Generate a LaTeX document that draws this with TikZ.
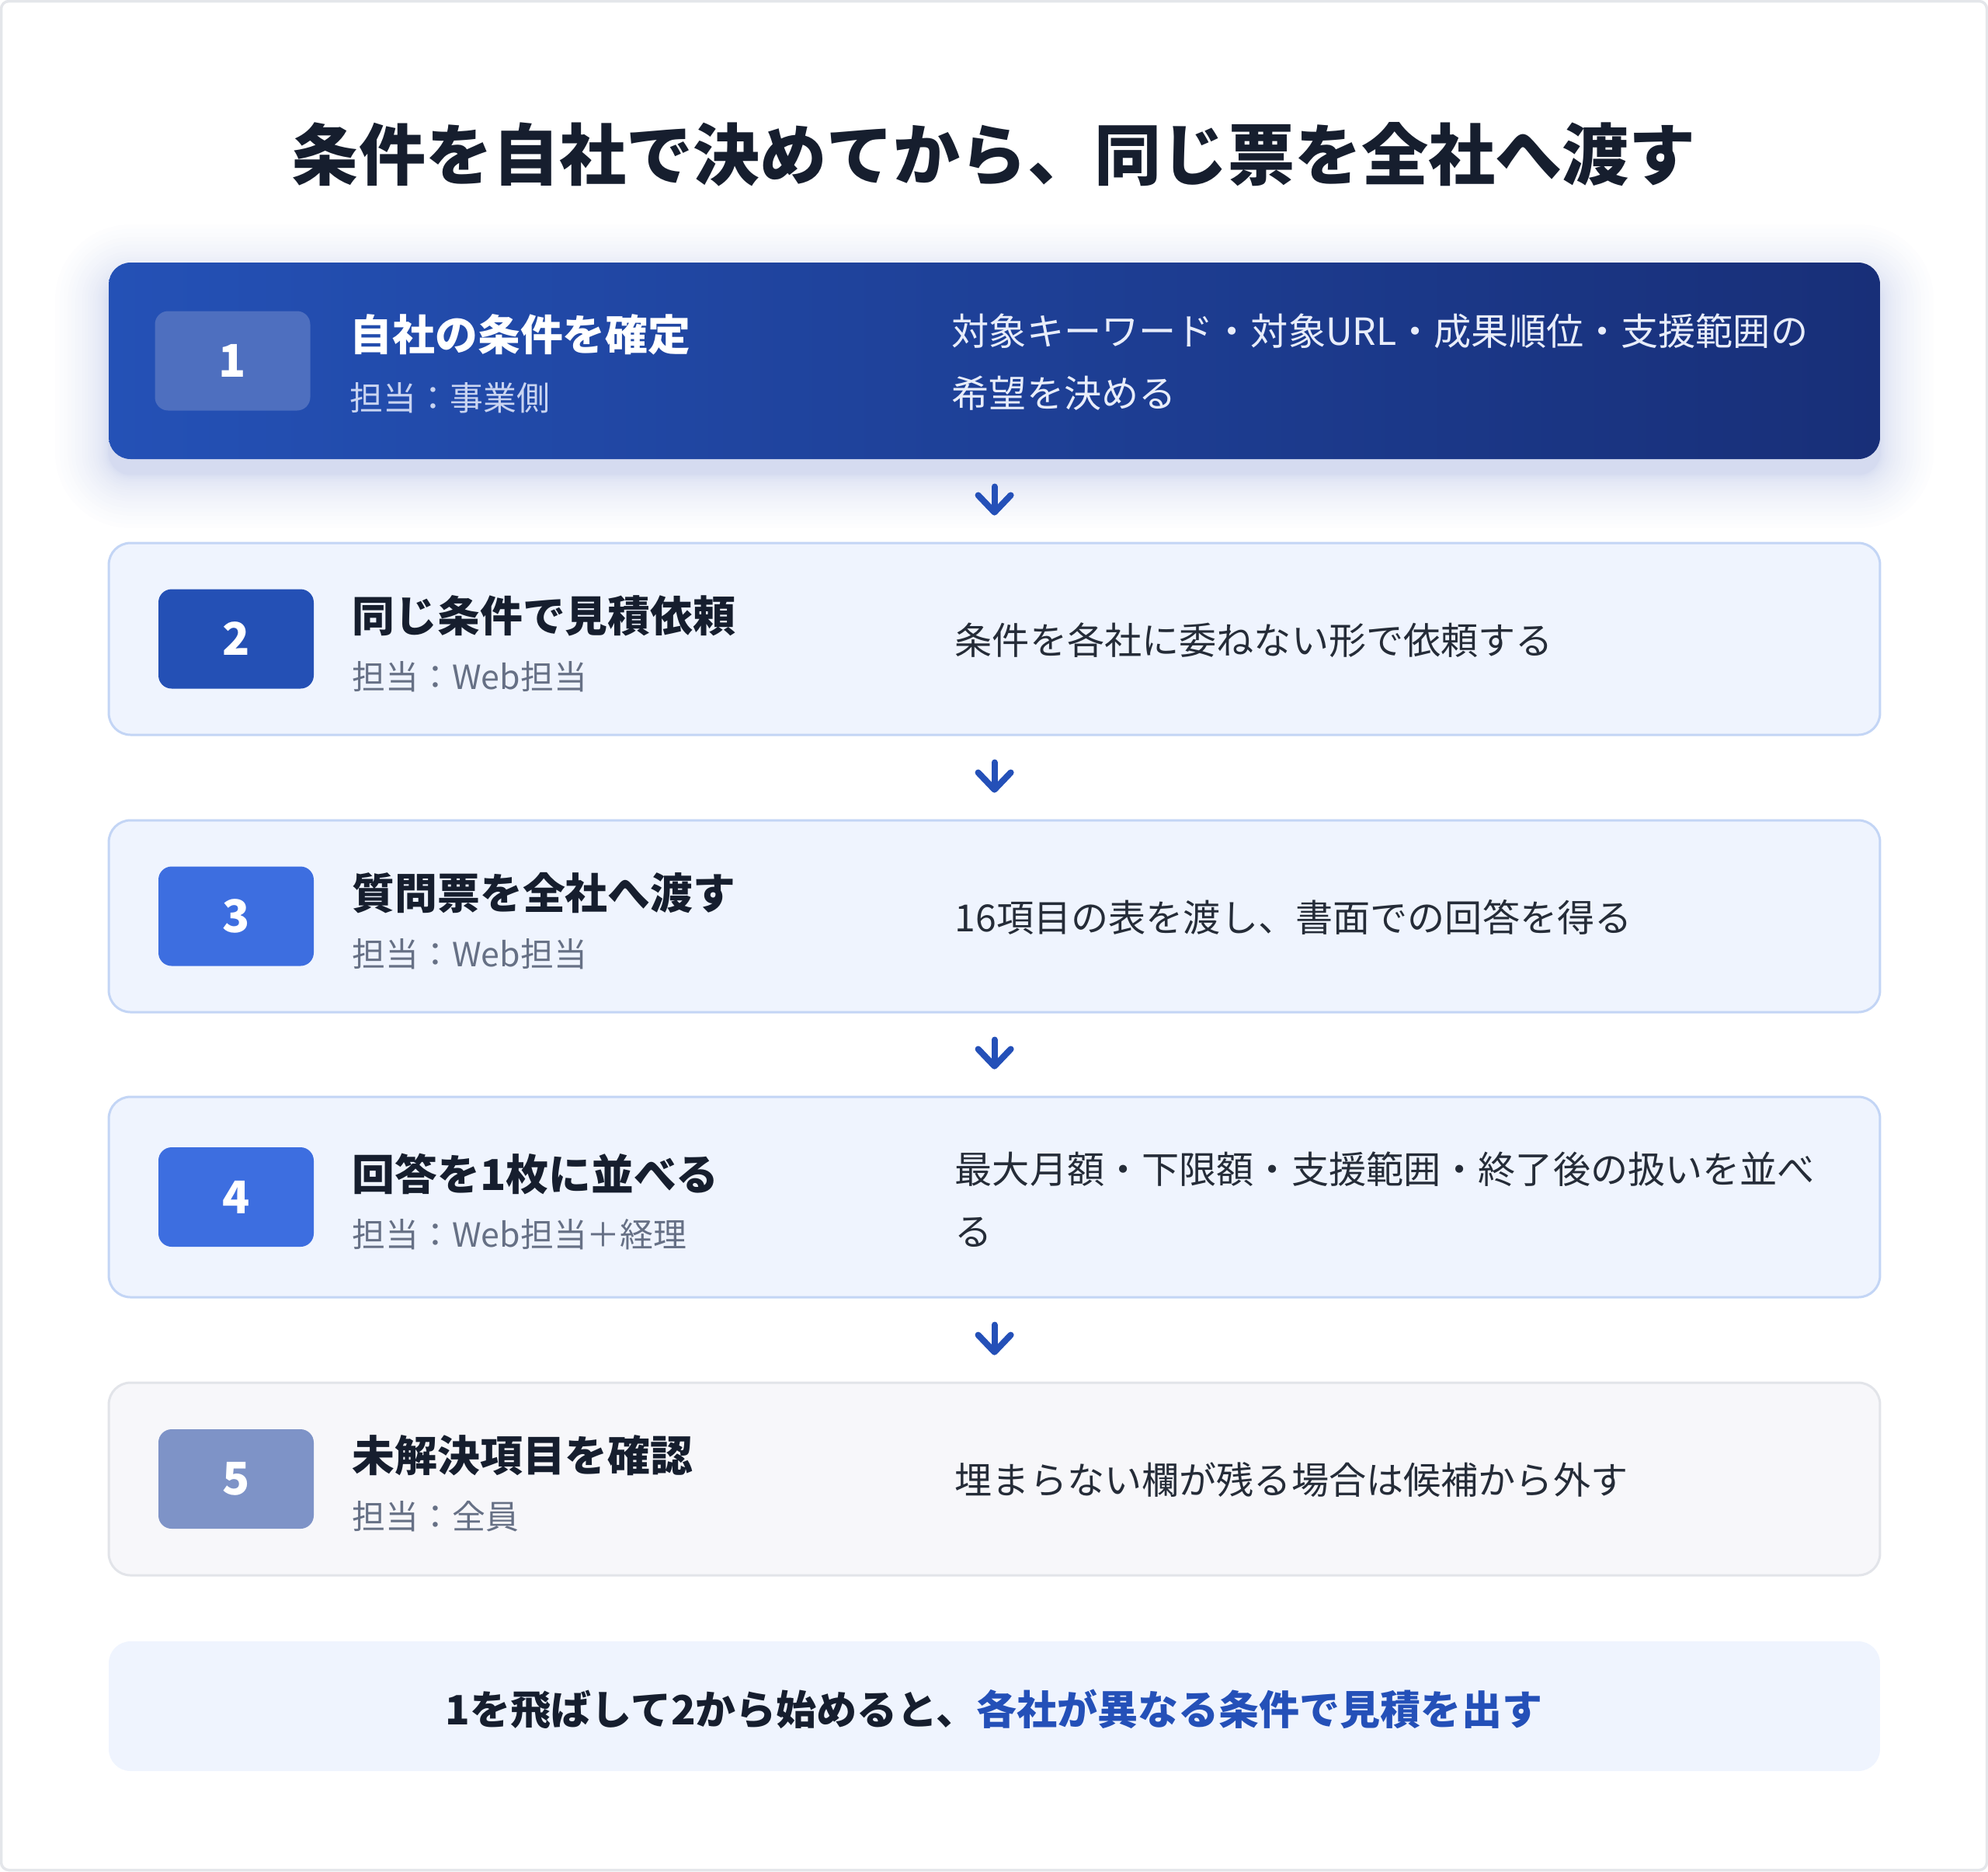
\documentclass[tikz,border=0pt]{standalone}
\usepackage{fontspec}
\setmainfont{Noto Sans CJK JP}
\usepackage{xcolor}
\usepackage{tikz}
\usetikzlibrary{arrows.meta}

\definecolor{ink}{HTML}{161E2E}
\definecolor{body}{HTML}{252C38}
\definecolor{muted}{HTML}{667085}
\definecolor{accent}{HTML}{2450B8}
\definecolor{cardfill}{HTML}{EFF4FE}
\definecolor{cardline}{HTML}{C3D5F5}
\definecolor{greyfill}{HTML}{F7F7FA}
\definecolor{greyline}{HTML}{E2E4E9}
\definecolor{frame}{HTML}{E4E6EA}
\definecolor{deepA}{HTML}{2451B6}
\definecolor{deepB}{HTML}{182F78}
\definecolor{shadowtint}{HTML}{1E40AF}
\definecolor{boxone}{HTML}{4E6FBF}
\definecolor{boxtwo}{HTML}{2450B5}
\definecolor{boxthree}{HTML}{3D6EE0}
\definecolor{boxfive}{HTML}{7E93C7}
\definecolor{paleone}{HTML}{C9D4F1}
\definecolor{lightone}{HTML}{E8EDFA}

\begin{document}
\begin{tikzpicture}[scale=0.1,
	card/.style={rounded corners=2.8mm, minimum width=228.1mm, line width=0.85pt, inner sep=0pt},
	numbox/.style={rounded corners=1.7mm, minimum width=20mm, minimum height=12.8mm, inner sep=0pt, text=white, font=\fontsize{16.5}{16.5}\selectfont\bfseries},
	steptitle/.style={anchor=west, inner sep=0pt, text=ink, font=\fontsize{15.6}{15.6}\selectfont\bfseries},
	stepwho/.style={anchor=west, inner sep=0pt, text=muted, font=\fontsize{12.2}{12.2}\selectfont},
	steptext/.style={anchor=west, inner sep=0pt, align=left, text=body, font=\fontsize{13.7}{22.8}\selectfont},
	flow/.style={draw=accent, line width=2.3pt, line cap=round, shorten >=3.4mm, shorten <=3.4mm, -{Straight Barb[round, length=2.2mm, width=4.2mm]}}]
	\useasboundingbox (0,0) rectangle (256,-240.9);
	\draw [frame, line width=1pt, rounded corners=1mm] (0.15,-0.15) rectangle (255.85,-240.75);
	\node [font=\fontsize{24.5}{24.5}\selectfont\bfseries, text=ink] (head) at (128,-19.9) {条件を自社で決めてから、同じ票を全社へ渡す};
	% soft shadow under the first card
	\foreach \i [evaluate=\i as \e using 0.012*\i*\i, evaluate=\i as \r using 2.8+0.012*\i*\i] in {1,...,24}
		\fill [shadowtint, opacity=0.009, rounded corners=\r mm] (14.0-\e,-35.8+\e) rectangle (242.1+\e,-61.1-\e);
	% step 1
	\node [card, left color=deepA, right color=deepB, minimum height=25.3mm] (c1) at (128.05,-46.45) {};
	\node [numbox, fill=boxone] (n1) at (29.95,-46.45) {1};
	\node [steptitle, text=white] (t1) at (45.0,-43.1) {自社の条件を確定};
	\node [stepwho, text=paleone] (w1) at (45.0,-51.2) {担当：事業側};
	\node [steptext, text=lightone] (d1) at (122.5,-46.6) {対象キーワード・対象URL・成果順位・支援範囲の\\希望を決める};
	% step 2
	\node [card, draw=cardline, fill=cardfill, minimum height=24.7mm] (c2) at (128.05,-82.25) {};
	\node [numbox, fill=boxtwo] (n2) at (30.4,-82.25) {2};
	\node [steptitle] (t2) at (45.3,-79.25) {同じ条件で見積依頼};
	\node [stepwho] (w2) at (45.3,-87.15) {担当：Web担当};
	\node [steptext] (d2) at (122.9,-82.4) {条件を各社に委ねない形で依頼する};
	% step 3
	\node [card, draw=cardline, fill=cardfill, minimum height=24.7mm] (c3) at (128.05,-117.95) {};
	\node [numbox, fill=boxthree] (n3) at (30.4,-117.95) {3};
	\node [steptitle] (t3) at (45.3,-114.95) {質問票を全社へ渡す};
	\node [stepwho] (w3) at (45.3,-122.85) {担当：Web担当};
	\node [steptext] (d3) at (122.9,-118.1) {16項目の表を渡し、書面での回答を得る};
	% step 4
	\node [card, draw=cardline, fill=cardfill, minimum height=25.8mm] (c4) at (128.05,-154.1) {};
	\node [numbox, fill=boxthree] (n4) at (30.4,-154.1) {4};
	\node [steptitle] (t4) at (45.3,-151.1) {回答を1枚に並べる};
	\node [stepwho] (w4) at (45.3,-158.9) {担当：Web担当＋経理};
	\node [steptext] (d4) at (122.9,-154.4) {最大月額・下限額・支援範囲・終了後の扱いを並べ\\る};
	% step 5
	\node [card, draw=greyline, fill=greyfill, minimum height=24.8mm] (c5) at (128.05,-190.4) {};
	\node [numbox, fill=boxfive] (n5) at (30.4,-190.4) {5};
	\node [steptitle] (t5) at (45.3,-187.4) {未解決項目を確認};
	\node [stepwho] (w5) at (45.3,-195.2) {担当：全員};
	\node [steptext] (d5) at (122.9,-190.5) {埋まらない欄が残る場合は候補から外す};
	% arrows between the steps
	\foreach \a/\b in {c1/c2, c2/c3, c3/c4, c4/c5}
		\draw [flow] (\a.south) -- (\b.north);
	% closing note
	\node [card, fill=cardfill, minimum height=16.7mm] (note) at (128.05,-219.65) {};
	\node [font=\fontsize{14.8}{14.8}\selectfont\bfseries, text=ink, inner sep=0pt] (notetext) at (128,-220.0) {1を飛ばして2から始めると、\textcolor{accent}{各社が異なる条件で見積を出す}};
\end{tikzpicture}
\end{document}
